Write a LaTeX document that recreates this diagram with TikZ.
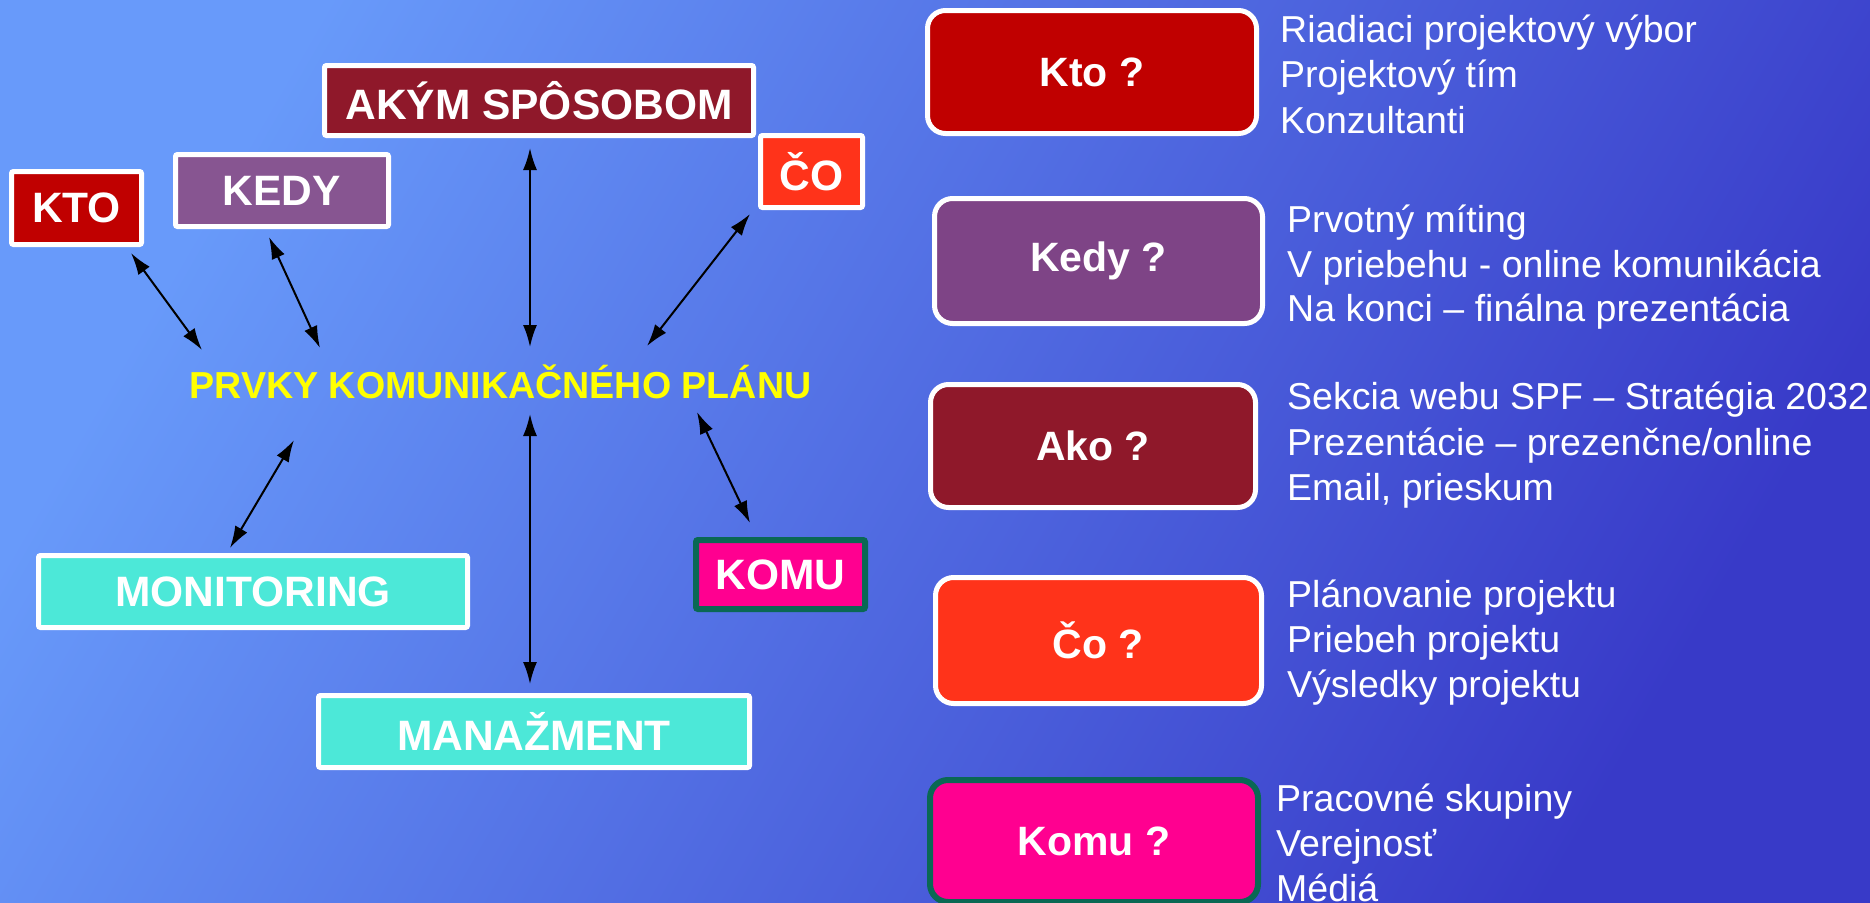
\documentclass[tikz,border=0pt]{standalone}
\usepackage{fontspec}
\setmainfont{Liberation Sans}
\usetikzlibrary{arrows.meta}
\definecolor{bgA}{RGB}{104,154,250}
\definecolor{bgB}{RGB}{84,118,232}
\definecolor{bgC}{RGB}{56,58,200}
\definecolor{ktoC}{RGB}{192,0,0}
\definecolor{kedyL}{RGB}{135,85,145}
\definecolor{kedyR}{RGB}{126,68,134}
\definecolor{akoC}{RGB}{143,24,42}
\definecolor{coC}{RGB}{255,51,26}
\definecolor{komuC}{RGB}{255,0,144}
\definecolor{komuB}{RGB}{10,104,84}
\definecolor{turq}{RGB}{76,232,216}
\definecolor{yel}{RGB}{255,255,0}
\tikzset{
  lbox/.style={draw=white, line width=5pt, rounded corners=2pt, inner sep=0pt,
    text=white, font=\fontsize{42.5}{50}\selectfont\bfseries},
  rbox/.style={draw=white, line width=5pt, rounded corners=18pt, inner sep=0pt,
    text=white, font=\fontsize{41}{49}\selectfont\bfseries},
  rtext/.style={anchor=base west, inner sep=0pt, text=white,
    font=\fontsize{37.5}{45}\selectfont},
  link/.style={line width=2pt, draw=black,
    {Latex[length=22pt,width=14pt]}-{Latex[length=22pt,width=14pt]}}
}
\begin{document}
\begin{tikzpicture}[x=1pt,y=-1pt]
\useasboundingbox (0,0) rectangle (1870,902);
\shade[top color=bgA, middle color=bgB, bottom color=bgC, shading angle=60]
  (0,0) rectangle (1870,902);

% left boxes
\node[lbox, fill=ktoC, minimum width=130pt, minimum height=73pt] (kto) at (76.5,208) {KTO};
\node[lbox, fill=kedyL, minimum width=213pt, minimum height=72pt] (kedy) at (282,190.5) {KEDY};
\node[lbox, fill=akoC, minimum width=429pt, minimum height=70pt] (akym) at (539,100.5) {AKÝM SPÔSOBOM};
\node[lbox, fill=coC, minimum width=102pt, minimum height=72pt] (co) at (811.5,171.5) {ČO};
\node[lbox, fill=turq, minimum width=429pt, minimum height=72pt] (mon) at (253,591.5) {MONITORING};
\node[lbox, fill=turq, minimum width=431pt, minimum height=72pt] (man) at (534,731.5) {MANAŽMENT};
\node[lbox, draw=komuB, line width=6pt, fill=komuC, minimum width=169pt, minimum height=69pt] (komu) at (780.5,574.5) {KOMU};

% centre title
\node[text=yel, font=\fontsize{37.6}{45}\selectfont\bfseries, inner sep=0pt] (prvky) at (500.5,382) {PRVKY KOMUNIKAČNÉHO PLÁNU};

% arrow end points
\coordinate (ktoA) at (131,253);   \coordinate (ktoB) at (202,350);
\coordinate (kedyA) at (269,237);  \coordinate (kedyB) at (320,348);
\coordinate (akA) at (530,148);    \coordinate (akB) at (530,347);
\coordinate (coA) at (750,214);    \coordinate (coB) at (647,346);
\coordinate (monA) at (294,440);   \coordinate (monB) at (230,548);
\coordinate (manA) at (530,414);   \coordinate (manB) at (530,684);
\coordinate (komA) at (697,412);   \coordinate (komB) at (750,523);

\draw[link] (ktoA) -- (ktoB);
\draw[link] (kedyA) -- (kedyB);
\draw[link] (akA) -- (akB);
\draw[link] (coA) -- (coB);
\draw[link] (monA) -- (monB);
\draw[link] (manA) -- (manB);
\draw[link] (komA) -- (komB);

% right boxes
\node[rbox, fill=ktoC, minimum width=329pt, minimum height=123pt] (rkto) at (1092,72) {Kto ?};
\node[rbox, fill=kedyR, minimum width=328pt, minimum height=125pt] (rkedy) at (1098.5,261) {Kedy ?};
\node[rbox, fill=akoC, minimum width=325pt, minimum height=123pt] (rako) at (1093,446) {Ako ?};
\node[rbox, fill=coC, minimum width=326pt, minimum height=126pt] (rco) at (1098.5,640.5) {Čo ?};
\node[rbox, draw=komuB, line width=6pt, fill=komuC, minimum width=328pt, minimum height=122pt] (rkomu) at (1094,841) {Komu ?};

% right texts
\node[rtext] (t11) at (1280,42) {Riadiaci projektový výbor};
\node[rtext] (t12) at (1280,87.5) {Projektový tím};
\node[rtext] (t13) at (1280,133) {Konzultanti};

\node[rtext] (t21) at (1287,232) {Prvotný míting};
\node[rtext] (t22) at (1287,277) {V priebehu - online komunikácia};
\node[rtext] (t23) at (1287,321) {Na konci – finálna prezentácia};

\node[rtext] (t31) at (1287,409) {Sekcia webu SPF – Stratégia 2032};
\node[rtext] (t32) at (1287,455) {Prezentácie – prezenčne/online};
\node[rtext] (t33) at (1287,500) {Email, prieskum};

\node[rtext] (t41) at (1287,607) {Plánovanie projektu};
\node[rtext] (t42) at (1287,652) {Priebeh projektu};
\node[rtext] (t43) at (1287,697) {Výsledky projektu};

\node[rtext] (t51) at (1276,811) {Pracovné skupiny};
\node[rtext] (t52) at (1276,856) {Verejnosť};
\node[rtext] (t53) at (1276,901) {Médiá};
\end{tikzpicture}
\end{document}
